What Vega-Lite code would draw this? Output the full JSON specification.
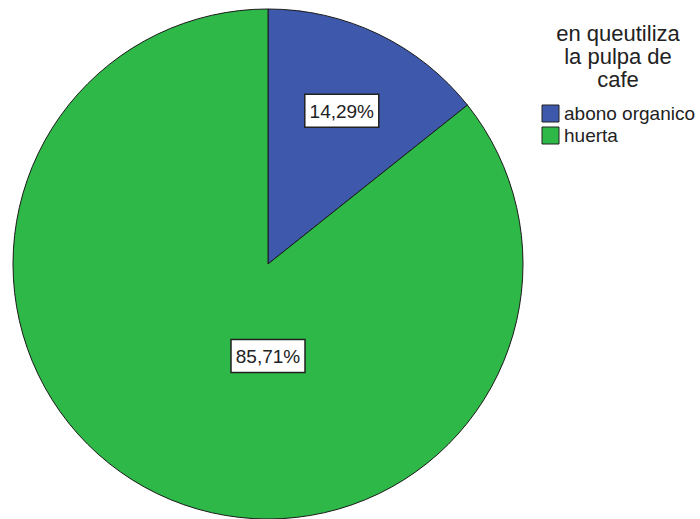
{
  "$schema": "https://vega.github.io/schema/vega-lite/v6.json",
  "width": 526,
  "height": 518,
  "padding": 5,
  "background": "white",
  "config": {"view": {"stroke": null}, "font": "Liberation Sans"},
  "data": {"values": [
    {"uso": "abono organico", "pct": 14.29},
    {"uso": "huerta", "pct": 85.71}
  ]},
  "layer": [
    {
      "mark": {"type": "arc", "outerRadius": 255, "stroke": "#1a1a1a", "strokeWidth": 1},
      "encoding": {
        "theta": {"field": "pct", "type": "quantitative", "stack": true},
        "order": {"field": "uso", "type": "nominal", "sort": "ascending"},
        "color": {
          "field": "uso",
          "type": "nominal",
          "scale": {"domain": ["abono organico", "huerta"], "range": ["#3E58AC", "#2EB848"]},
          "legend": {
            "title": ["en queutiliza", "la pulpa de", "cafe"],
            "orient": "none",
            "legendX": 536,
            "legendY": 19,
            "titleFont": "Liberation Sans",
            "titleFontSize": 22,
            "titleFontWeight": "normal",
            "titleColor": "#222222",
            "titleAlign": "center",
            "titleAnchor": "middle",
            "titleLineHeight": 23,
            "titlePadding": 12,
            "labelFont": "Liberation Sans",
            "labelFontSize": 19,
            "labelColor": "#222222",
            "labelOffset": 4,
            "symbolType": "square",
            "symbolSize": 289,
            "symbolStrokeColor": "#222222",
            "symbolStrokeWidth": 1,
            "rowPadding": 1
          }
        }
      }
    },
    {
      "transform": [
        {"window": [{"op": "sum", "field": "pct", "as": "cum"}], "sort": [{"field": "uso", "order": "ascending"}], "frame": [null, 0]},
        {"joinaggregate": [{"op": "sum", "field": "pct", "as": "total"}]},
        {"filter": "datum.uso === 'abono organico'"},
        {"calculate": "2*PI*(datum.cum - datum.pct/2)/datum.total", "as": "mid"},
        {"calculate": "170*sin(datum.mid)", "as": "lx"},
        {"calculate": "170*cos(datum.mid)", "as": "ly"},
        {"calculate": "replace(format(datum.pct, '.2f'), '.', ',') + '%'", "as": "etiqueta"}
      ],
      "encoding": {
        "x": {"field": "lx", "type": "quantitative", "scale": {"domain": [-263, 263], "nice": false, "zero": false}, "axis": null},
        "y": {"field": "ly", "type": "quantitative", "scale": {"domain": [-259, 259], "nice": false, "zero": false}, "axis": null}
      },
      "layer": [
        {"mark": {"type": "point", "shape": "M-1,-0.446H1V0.446H-1Z", "size": 5476, "filled": true, "fill": "white", "stroke": "#222222", "strokeWidth": 1.5, "opacity": 1}},
        {"mark": {"type": "text", "font": "Liberation Sans", "fontSize": 19, "color": "#222222", "align": "center", "baseline": "middle", "dy": 1}, "encoding": {"text": {"field": "etiqueta"}}}
      ]
    },
    {
      "transform": [
        {"filter": "datum.uso === 'huerta'"},
        {"window": [{"op": "sum", "field": "pct", "as": "cum"}], "sort": [{"field": "uso", "order": "ascending"}], "frame": [null, 0]},
        {"joinaggregate": [{"op": "sum", "field": "pct", "as": "total"}]},
        {"calculate": "2*PI*(datum.cum - datum.pct/2)/datum.total", "as": "mid"},
        {"calculate": "92*sin(datum.mid)", "as": "lx"},
        {"calculate": "92*cos(datum.mid)", "as": "ly"},
        {"calculate": "replace(format(datum.pct, '.2f'), '.', ',') + '%'", "as": "etiqueta"}
      ],
      "encoding": {
        "x": {"field": "lx", "type": "quantitative", "scale": {"domain": [-263, 263], "nice": false, "zero": false}, "axis": null},
        "y": {"field": "ly", "type": "quantitative", "scale": {"domain": [-259, 259], "nice": false, "zero": false}, "axis": null}
      },
      "layer": [
        {"mark": {"type": "point", "shape": "M-1,-0.446H1V0.446H-1Z", "size": 5476, "filled": true, "fill": "white", "stroke": "#222222", "strokeWidth": 1.5, "opacity": 1}},
        {"mark": {"type": "text", "font": "Liberation Sans", "fontSize": 19, "color": "#222222", "align": "center", "baseline": "middle", "dy": 1}, "encoding": {"text": {"field": "etiqueta"}}}
      ]
    }
  ]
}
